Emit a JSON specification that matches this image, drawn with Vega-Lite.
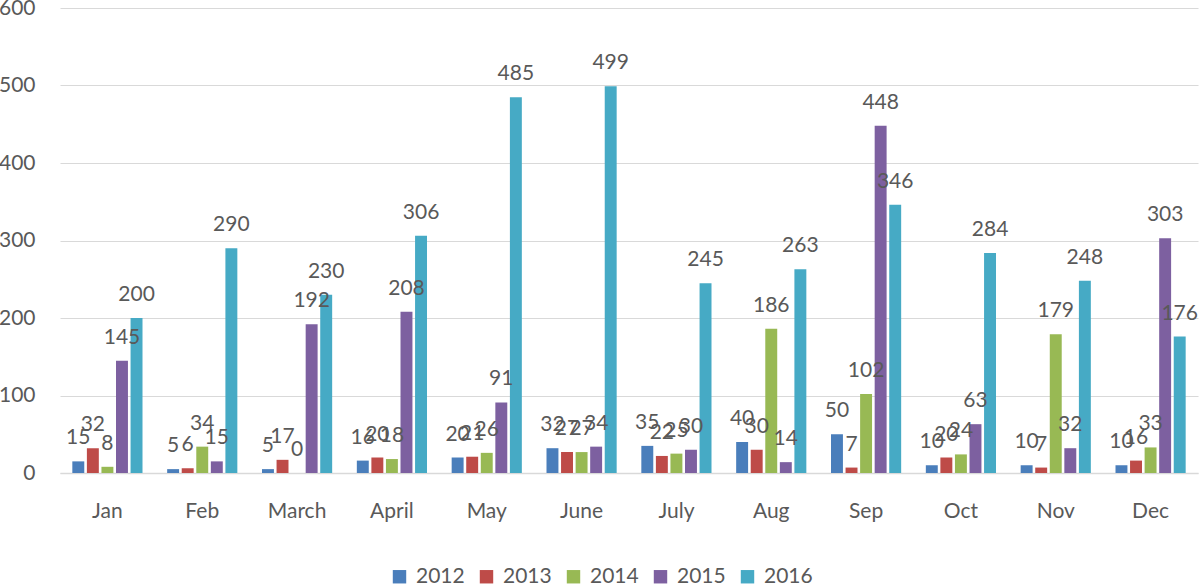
{
  "$schema": "https://vega.github.io/schema/vega-lite/v6.json",
  "autosize": {"type": "none"},
  "width": 1138,
  "height": 465,
  "padding": {"left": 60, "top": 8, "right": 2, "bottom": 113},
  "background": "white",
  "config": {
    "view": {"stroke": null},
    "font": "Lato",
    "axis": {"labelFont": "Lato", "labelFontSize": 21, "labelColor": "#595959"},
    "legend": {"labelFont": "Lato", "labelFontSize": 21, "labelColor": "#595959"}
  },
  "data": {
    "values": [
      {"month": "Jan", "year": "2012", "value": 15},
      {"month": "Jan", "year": "2013", "value": 32},
      {"month": "Jan", "year": "2014", "value": 8},
      {"month": "Jan", "year": "2015", "value": 145},
      {"month": "Jan", "year": "2016", "value": 200},
      {"month": "Feb", "year": "2012", "value": 5},
      {"month": "Feb", "year": "2013", "value": 6},
      {"month": "Feb", "year": "2014", "value": 34},
      {"month": "Feb", "year": "2015", "value": 15},
      {"month": "Feb", "year": "2016", "value": 290},
      {"month": "March", "year": "2012", "value": 5},
      {"month": "March", "year": "2013", "value": 17},
      {"month": "March", "year": "2014", "value": 0},
      {"month": "March", "year": "2015", "value": 192},
      {"month": "March", "year": "2016", "value": 230},
      {"month": "April", "year": "2012", "value": 16},
      {"month": "April", "year": "2013", "value": 20},
      {"month": "April", "year": "2014", "value": 18},
      {"month": "April", "year": "2015", "value": 208},
      {"month": "April", "year": "2016", "value": 306},
      {"month": "May", "year": "2012", "value": 20},
      {"month": "May", "year": "2013", "value": 21},
      {"month": "May", "year": "2014", "value": 26},
      {"month": "May", "year": "2015", "value": 91},
      {"month": "May", "year": "2016", "value": 485},
      {"month": "June", "year": "2012", "value": 32},
      {"month": "June", "year": "2013", "value": 27},
      {"month": "June", "year": "2014", "value": 27},
      {"month": "June", "year": "2015", "value": 34},
      {"month": "June", "year": "2016", "value": 499},
      {"month": "July", "year": "2012", "value": 35},
      {"month": "July", "year": "2013", "value": 22},
      {"month": "July", "year": "2014", "value": 25},
      {"month": "July", "year": "2015", "value": 30},
      {"month": "July", "year": "2016", "value": 245},
      {"month": "Aug", "year": "2012", "value": 40},
      {"month": "Aug", "year": "2013", "value": 30},
      {"month": "Aug", "year": "2014", "value": 186},
      {"month": "Aug", "year": "2015", "value": 14},
      {"month": "Aug", "year": "2016", "value": 263},
      {"month": "Sep", "year": "2012", "value": 50},
      {"month": "Sep", "year": "2013", "value": 7},
      {"month": "Sep", "year": "2014", "value": 102},
      {"month": "Sep", "year": "2015", "value": 448},
      {"month": "Sep", "year": "2016", "value": 346},
      {"month": "Oct", "year": "2012", "value": 10},
      {"month": "Oct", "year": "2013", "value": 20},
      {"month": "Oct", "year": "2014", "value": 24},
      {"month": "Oct", "year": "2015", "value": 63},
      {"month": "Oct", "year": "2016", "value": 284},
      {"month": "Nov", "year": "2012", "value": 10},
      {"month": "Nov", "year": "2013", "value": 7},
      {"month": "Nov", "year": "2014", "value": 179},
      {"month": "Nov", "year": "2015", "value": 32},
      {"month": "Nov", "year": "2016", "value": 248},
      {"month": "Dec", "year": "2012", "value": 10},
      {"month": "Dec", "year": "2013", "value": 16},
      {"month": "Dec", "year": "2014", "value": 33},
      {"month": "Dec", "year": "2015", "value": 303},
      {"month": "Dec", "year": "2016", "value": 176}
    ]
  },
  "encoding": {
    "x": {
      "field": "month", "type": "nominal", "sort": null, "title": null,
      "scale": {"paddingInner": 0.26, "paddingOuter": 0.13},
      "axis": {"labelAngle": 0, "ticks": false, "domainColor": "#d9d9d9", "domainWidth": 1.5, "labelPadding": 27, "grid": false}
    },
    "xOffset": {"field": "year", "type": "nominal", "scale": {"paddingInner": 0.18}},
    "y": {
      "field": "value", "type": "quantitative", "title": null,
      "scale": {"domain": [0, 600], "nice": false},
      "axis": {"values": [0, 100, 200, 300, 400, 500, 600], "domain": false, "ticks": false, "gridColor": "#d9d9d9", "gridWidth": 1.2, "labelPadding": 25}
    }
  },
  "layer": [
    {
      "mark": {"type": "bar"},
      "encoding": {
        "color": {
          "field": "year", "type": "nominal", "title": null,
          "scale": {"domain": ["2012", "2013", "2014", "2015", "2016"], "range": ["#4A7EBB", "#BE4B48", "#98B954", "#7D60A0", "#46AAC5"]},
          "legend": {"orient": "none", "legendX": 329, "legendY": 558, "direction": "horizontal", "symbolType": "square", "symbolSize": 180, "symbolStrokeWidth": 0, "columnPadding": 11, "labelOffset": 6}
        }
      }
    },
    {
      "mark": {"type": "text", "baseline": "alphabetic", "dy": -17, "fontSize": 21, "color": "#595959", "font": "Lato"},
      "encoding": {"text": {"field": "value", "type": "quantitative"}}
    }
  ]
}
